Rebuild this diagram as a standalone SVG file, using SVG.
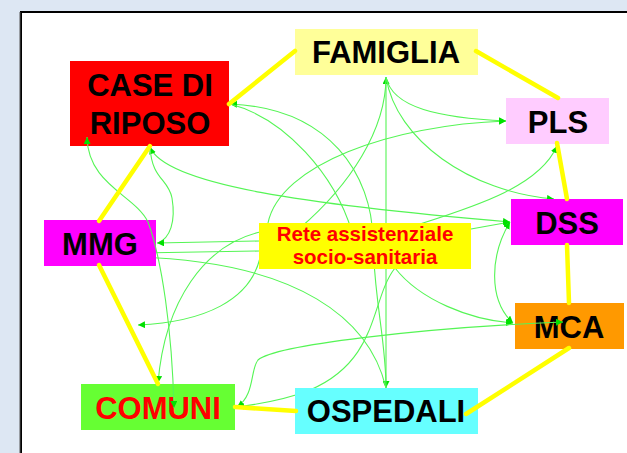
<svg xmlns="http://www.w3.org/2000/svg" width="627" height="453" viewBox="0 0 627 453">
<defs>
<style>
.g{fill:none;stroke:#55f555;stroke-width:1.1}
.y{fill:none;stroke:#ffff00;stroke-width:4.5;stroke-linecap:round}
.t{font-family:"Liberation Sans",Arial,sans-serif;font-weight:bold;font-size:31px;text-anchor:middle;fill:#000}
.r{font-family:"Liberation Sans",Arial,sans-serif;font-weight:bold;font-size:20.5px;text-anchor:middle;fill:#ff0000}
</style>
<marker id="a" viewBox="0 0 8 8" refX="8" refY="4" markerWidth="7" markerHeight="7" markerUnits="userSpaceOnUse" orient="auto-start-reverse">
<path d="M0,0 L8,4 L0,8 z" fill="#00e000"/>
</marker>
</defs>
<rect x="0" y="0" width="627" height="453" fill="#dde7f3"/>
<rect x="21" y="12" width="620" height="460" fill="#ffffff" stroke="#000" stroke-width="2"/>
<line x1="20" y1="12" x2="20" y2="453" stroke="#555" stroke-width="1"/>

<g id="connectors-green">
<path class="g" d="M386,77 L386,388" marker-start="url(#a)" marker-end="url(#a)"/>
<path class="g" d="M386,77 C392,108 440,118 506,121" marker-end="url(#a)"/>
<path class="g" d="M386,77 C396,140 470,192 554,199" marker-end="url(#a)"/>
<path class="g" d="M386,77 C386,130 350,185 300,228"/>
<path class="g" d="M230,104 C330,108 372,175 373,240 C374,300 386,340 386,388" marker-start="url(#a)"/>
<path class="g" d="M230,104 C285,118 335,175 352,232"/>
<path class="g" d="M150,147 C165,185 310,205 510,222" marker-start="url(#a)" marker-end="url(#a)"/>
<path class="g" d="M150,147 C152,180 168,178 172,198 C176,222 170,238 158,243"/>
<path class="g" d="M259,241 L157,243" marker-end="url(#a)"/>
<path class="g" d="M259,251 L139,253" marker-end="url(#a)"/>
<path class="g" d="M386,388 C370,320 300,262 137,257" marker-end="url(#a)"/>
<path class="g" d="M260,232 C205,245 165,300 158,383" marker-end="url(#a)"/>
<path class="g" d="M260,258 C250,300 205,322 138,325" marker-end="url(#a)"/>
<path class="g" d="M268,223 C280,165 390,125 506,121" marker-end="url(#a)"/>
<path class="g" d="M420,224 C480,205 540,185 557,146" marker-end="url(#a)"/>
<path class="g" d="M471,229 L510,222" marker-end="url(#a)"/>
<path class="g" d="M510,222 C490,255 488,300 513,323" marker-start="url(#a)" marker-end="url(#a)"/>
<path class="g" d="M395,268 C420,300 470,320 513,323" marker-end="url(#a)"/>
<path class="g" d="M395,268 C370,300 380,360 310,390 C290,398 260,404 237,407" marker-end="url(#a)"/>
</g>

<g id="n-famiglia"><rect x="295" y="29" width="183" height="46" fill="#ffff99"/><text class="t" x="386" y="63">FAMIGLIA</text></g>
<g id="n-case"><rect x="70" y="61" width="159" height="85" fill="#ff0000"/><text class="t" x="150" y="96">CASE DI</text><text class="t" x="150" y="134">RIPOSO</text></g>
<g id="n-pls"><rect x="506" y="98" width="103" height="46" fill="#ffccff"/><text class="t" x="558" y="133">PLS</text></g>
<g id="n-dss"><rect x="511" y="199" width="112" height="46" fill="#ff00ff"/><text class="t" x="567" y="234">DSS</text></g>
<g id="n-mmg"><rect x="44" y="220" width="112" height="46" fill="#ff00ff"/><text class="t" x="100" y="255">MMG</text></g>
<g id="n-rete"><rect x="259" y="223" width="212" height="46" fill="#ffff00"/><text class="r" x="365" y="241">Rete assistenziale</text><text class="r" x="365" y="264">socio-sanitaria</text></g>
<g id="n-mca"><rect x="515" y="303" width="109" height="46" fill="#ff9900"/><text class="t" x="569" y="338">MCA</text></g>
<g id="n-comuni"><rect x="81" y="384" width="154" height="46" fill="#66ff33"/><text class="t" x="158" y="419" style="fill:#ff0000">COMUNI</text></g>
<g id="n-ospedali"><rect x="295" y="388" width="183" height="46" fill="#66ffff"/><text class="t" x="386" y="422">OSPEDALI</text></g>

<g id="connectors-top">
<path class="g" d="M87,137 C88,185 135,195 148,222 C162,260 172,330 174,408" marker-start="url(#a)" marker-end="url(#a)"/>
<path class="g" d="M237,407 C255,395 250,370 258,360 C275,345 420,328 563,322" marker-start="url(#a)" marker-end="url(#a)"/>
<path class="y" d="M476,51 L558,98"/>
<path class="y" d="M295,51 L229,104"/>
<path class="y" d="M150,146 L99,221"/>
<path class="y" d="M99,265 L158,384"/>
<path class="y" d="M235,407 L296,411"/>
<path class="y" d="M466,414 L569,348"/>
<path class="y" d="M569,303 L567,245"/>
<path class="y" d="M567,199 L557,143"/>
</g>
</svg>
